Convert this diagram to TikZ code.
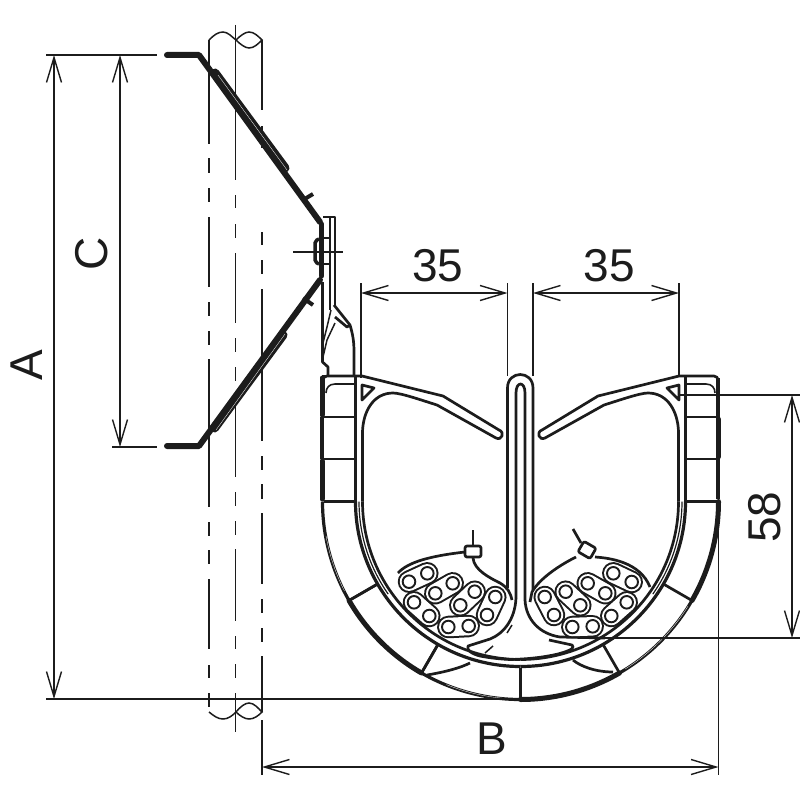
\documentclass[tikz,border=0pt]{standalone}
\usepackage{fontspec}
\setmainfont{Liberation Sans}
\usetikzlibrary{arrows.meta}

\definecolor{ink}{HTML}{1C1C1C}
\tikzset{
  poleline/.style={ink,line width=1.5pt},
  armline/.style={ink,line width=6pt,line cap=round,line join=round},
  stripline/.style={ink,line width=9pt,line cap=round},
  sliver/.style={white,line width=0.3pt},
  metal/.style={ink,line width=2.7pt,line join=round},
  thickmetal/.style={ink,line width=5pt,line cap=round},
  cableline/.style={ink,line width=1.9pt},
  dimline/.style={ink,line width=1.4pt,{Straight Barb[length=25pt,width=15pt]}-{Straight Barb[length=25pt,width=15pt]}},
  extline/.style={ink,line width=1.4pt},
  dimtext/.style={ink,inner sep=0pt,font=\fontsize{46}{46}\selectfont}
}
\newcommand\cablepair[4]{%
  \draw[ink,line width=22.5pt,line cap=round] (#1,#2) -- (#3,#4);
  \draw[white,line width=18.5pt,line cap=round] (#1,#2) -- (#3,#4);
  \draw[cableline] (#1,#2) circle (6.3);
  \draw[cableline] (#3,#4) circle (6.3);
}
% one half of the tray, right side; the left side is its mirror image
\newcommand\halftray{%
  \begin{scope}[shift={(520.5,501.5)}]
    \draw[metal,line width=3.2pt] (0:165) arc[start angle=0,end angle=90,radius=165];
    \draw[metal] (0:158) arc[start angle=0,end angle=90,radius=158];
    \draw[metal] (30:166) -- (30:198);
    \draw[metal] (60:166) -- (60:198);
    \draw[ink,line width=1.2pt] (0:161.5) arc[start angle=0,end angle=35,radius=161.5];
  \end{scope}
  % wing
  \draw[metal,line width=3.2pt] (685.5,501.5) -- (685.5,376);
  \draw[metal] (678.5,501.5) -- (678.5,432) .. controls (678,412) and (668,393) .. (648,393) .. controls (640,393) and (620,400) .. (604,405) -- (545,438) .. controls (539,441) and (536,432) .. (542,430) -- (598,396) -- (679,376) -- (714,376) .. controls (717,376) and (718,378) .. (718,381);
  \draw[metal,line width=1.6pt] (686,384) -- (706,384) .. controls (712,384) and (715,388) .. (715,393);
  \draw[metal] (667,388) -- (679,385) -- (679,400) -- cycle;
  % blocks
  \draw[metal] (686,417) -- (717,417);
  \draw[metal] (686,459) -- (717,459);
  \draw[metal] (686,501.5) -- (717,501.5);
}

\begin{document}
\begin{tikzpicture}[x=1pt,y=-1pt]
\useasboundingbox (0,0) rectangle (800,800);

% pole
\foreach \ya/\yb in {40/144,158/173,188/202,217/287,302/316,331/345,359/507,522/536,550/564,579/649,665/678,693/707}
  \draw[poleline] (209,\ya) -- (209,\yb);
\foreach \ya/\yb in {25/180,195/208,224/238,253/323,338/352,367/381,396/477,492/506,521/535,549/621,636/649,664/678,693/732}
  \draw[poleline] (235.5,\ya) -- (235.5,\yb);
\foreach \ya/\yb in {40/110,126/148,232/245,260/274,289/441,456/470,484/499,513/584,599/613,628/642,656/712}
  \draw[poleline] (262,\ya) -- (262,\yb);
\draw[poleline] (209,40) .. controls (214,35) and (218,32) .. (223,32) .. controls (228,32) and (232,37) .. (236,40) .. controls (240,36) and (245,32) .. (249,32) .. controls (254,32) and (258,36) .. (262,40) .. controls (258,44) and (254,48) .. (249,48) .. controls (245,48) and (240,44) .. (236,40);
\draw[poleline] (209,712) .. controls (214,716) and (218,719) .. (223,719) .. controls (228,719) and (232,716) .. (236,712) .. controls (240,707) and (245,703) .. (249,703) .. controls (254,703) and (258,708) .. (262,712) .. controls (258,716) and (254,719) .. (249,719) .. controls (245,719) and (240,716) .. (236,712);

% upper and lower arm
\draw[armline] (167,55) -- (199,55) -- (320,222);
\draw[stripline] (215,73) -- (285,168);
\draw[sliver] (218,75) -- (287,170);
\draw[armline] (167,446) -- (199,446) -- (320,280);
\draw[stripline] (214.5,428) -- (283,335);
\draw[sliver] (216,430) -- (285,334);
\draw[ink,line width=4pt] (303,200) -- (313,194);
\draw[ink,line width=4pt] (303,298) -- (313,305);

% plate
\draw[thickmetal] (321.5,224) -- (321.5,276);
\draw[ink,line width=3.5pt,rounded corners=2pt] (319,239) -- (315,241) -- (315,262) -- (319,264);
\draw[metal] (323,217) -- (335,217) -- (335,305);
\draw[metal] (330,217) -- (330,310);
\draw[metal,line width=1.5pt] (320,238) -- (330,238);
\draw[metal,line width=1.5pt] (320,264) -- (330,264);
\draw[extline] (293,252) -- (343,252);
\draw[metal] (322.5,282) -- (322.5,362) -- (328,367) -- (328,375);
\draw[metal] (334,305) -- (350,325) .. controls (353,335) and (354,342) .. (354,352) -- (354,375);
\draw[metal] (335,317) -- (347,327) -- (350,325);
\draw[metal,line width=1.5pt] (331,310) -- (327,327) -- (323,343);
\draw[metal,line width=1.5pt] (335,323) -- (327,340) -- (323,357);

% tray, both halves
\halftray
\begin{scope}[shift={(1041,0)},xscale=-1]
  \halftray
\end{scope}

% outer edge of the blocks
\draw[thickmetal] (322,378) -- (322,415);
\draw[metal,line width=3.5pt] (322,417) -- (322,459);
\draw[thickmetal] (322,461) -- (322,499);
\draw[thickmetal] (718,419) -- (718,457);
\draw[metal,line width=3.5pt] (718,378) -- (718,417);
\draw[metal,line width=3.5pt] (718,459) -- (718,499);
\draw[metal] (322,376) -- (356,376);
\begin{scope}[shift={(520.5,501.5)}]
  \draw[metal,line width=3.2pt] (180:198) arc[start angle=180,end angle=150,radius=198];
  \draw[thickmetal] (150:198) arc[start angle=150,end angle=120,radius=198];
  \draw[metal,line width=3.2pt] (120:198) arc[start angle=120,end angle=90,radius=198];
  \draw[thickmetal] (90:198) arc[start angle=90,end angle=60,radius=198];
  \draw[metal,line width=3.2pt] (60:198) arc[start angle=60,end angle=30,radius=198];
  \draw[thickmetal] (30:198) arc[start angle=30,end angle=0,radius=198];
  \draw[sliver] (112:197.5) arc[start angle=112,end angle=95,radius=197.5];
  \draw[sliver] (58:197.5) arc[start angle=58,end angle=32,radius=197.5];
  \draw[sliver] (170:197.5) arc[start angle=170,end angle=153,radius=197.5];
  \draw[metal] (150:166) -- (150:198);
  \draw[metal] (120:166) -- (120:198);
  \draw[metal] (90:166) -- (90:198);
\end{scope}
\draw[metal] (427,675) .. controls (445,672) and (460,668) .. (470,663);
\draw[metal] (573,660) .. controls (580,666) and (595,672) .. (613,672);

% middle divider
\draw[metal] (507.5,588) -- (507.5,388) .. controls (507.5,370) and (533,370) .. (533,388) -- (533,590);
\draw[metal] (516,598) -- (516,393) .. controls (516,381) and (525,381) .. (525,393) -- (525,600);
% pockets
\draw[metal] (516,598) .. controls (515,620) and (503,634) .. (490,639) -- (468,646) .. controls (466,650) and (472,654) .. (480,656) .. controls (490,658) and (500,659) .. (510,659.5);
\draw[metal] (525,600) .. controls (526,620) and (540,634) .. (560,637) -- (605,638);
\draw[metal] (549,640) -- (572,645) .. controls (575,648) and (572,650) .. (558,654) .. controls (545,657) and (530,659) .. (510,659.5);
\draw[metal,line width=1.5pt] (507,633) -- (512,625);
\draw[metal,line width=1.5pt] (485,653) -- (493,646);

% cables, left
\draw[metal] (398,573) .. controls (408,562) and (430,556) .. (465,552);
\draw[metal] (473,558) .. controls (474,570) and (490,578) .. (500,583) .. controls (508,588) and (510,592) .. (512,600);
\draw[metal] (473,530) -- (473,546);
\draw[metal,fill=white,rounded corners=2pt] (465,546) rectangle (481,557);
\foreach \ax/\ay/\bx/\by in {409/581.7/427.3/573.3,414/602.3/429.3/616,435.3/593.3/452.7/583.3,460.3/605.3/474.7/591.7,448.3/627/468.7/626,487/615/495.3/597}
  {\cablepair{\ax}{\ay}{\bx}{\by}}
% cables, right
\draw[metal] (576,557) .. controls (560,565) and (540,578) .. (532,592) -- (530,602);
\draw[metal] (595,557) .. controls (610,558) and (640,562) .. (650,587);
\draw[metal] (573,529) -- (581,543);
\draw[metal,fill=white,rounded corners=2pt,rotate around={-30:(587,550)}] (580,544) rectangle (594,556);
\foreach \ax/\ay/\bx/\by in {613.3/573.3/631.7/582,626.7/602.3/611.3/616,587.7/583.3/605.3/593.3,565.7/591.7/580.3/605.3,572.3/627/592.7/626.3,544.7/597/554/615}
  {\cablepair{\ax}{\ay}{\bx}{\by}}

% dimensions
\coordinate (Atop) at (54,55);
\coordinate (Abot) at (54,699);
\coordinate (Ctop) at (120,55);
\coordinate (Cbot) at (120,447);
\coordinate (Bleft) at (262,767);
\coordinate (Bright) at (718.5,767);
\coordinate (Dtop) at (792,395);
\coordinate (Dbot) at (792,638);
\coordinate (Ea) at (361,293);
\coordinate (Eb) at (507.5,293);
\coordinate (Fa) at (533,293);
\coordinate (Fb) at (679,293);

\draw[dimline] (Atop) -- (Abot);
\draw[dimline] (Ctop) -- (Cbot);
\draw[dimline] (Bleft) -- (Bright);
\draw[dimline] (Dtop) -- (Dbot);
\draw[dimline] (Ea) -- (Eb);
\draw[dimline] (Fa) -- (Fb);

\draw[extline] (46,55) -- (157,55);
\draw[extline] (112,447) -- (157,447);
\draw[extline] (46,699) -- (522,699);
\draw[extline] (262,720) -- (262,775);
\draw[extline] (718.5,420) -- (718.5,775);
\draw[extline] (680,395) -- (800,395);
\draw[extline] (605,638) -- (800,638);
\draw[extline] (361,283) -- (361,378);
\draw[extline] (507.5,283) -- (507.5,376);
\draw[extline] (533,283) -- (533,376);
\draw[extline] (679,283) -- (679,376);

\node[dimtext,rotate=90] (labelA) at (27,365) {A};
\node[dimtext,rotate=90] (labelC) at (92,254) {C};
\node[dimtext] (labelB) at (492,739) {B};
\node[dimtext,rotate=90] (label58) at (765,517) {58};
\node[dimtext] (label35a) at (438,266) {35};
\node[dimtext] (label35b) at (609,266) {35};
\end{tikzpicture}
\end{document}
